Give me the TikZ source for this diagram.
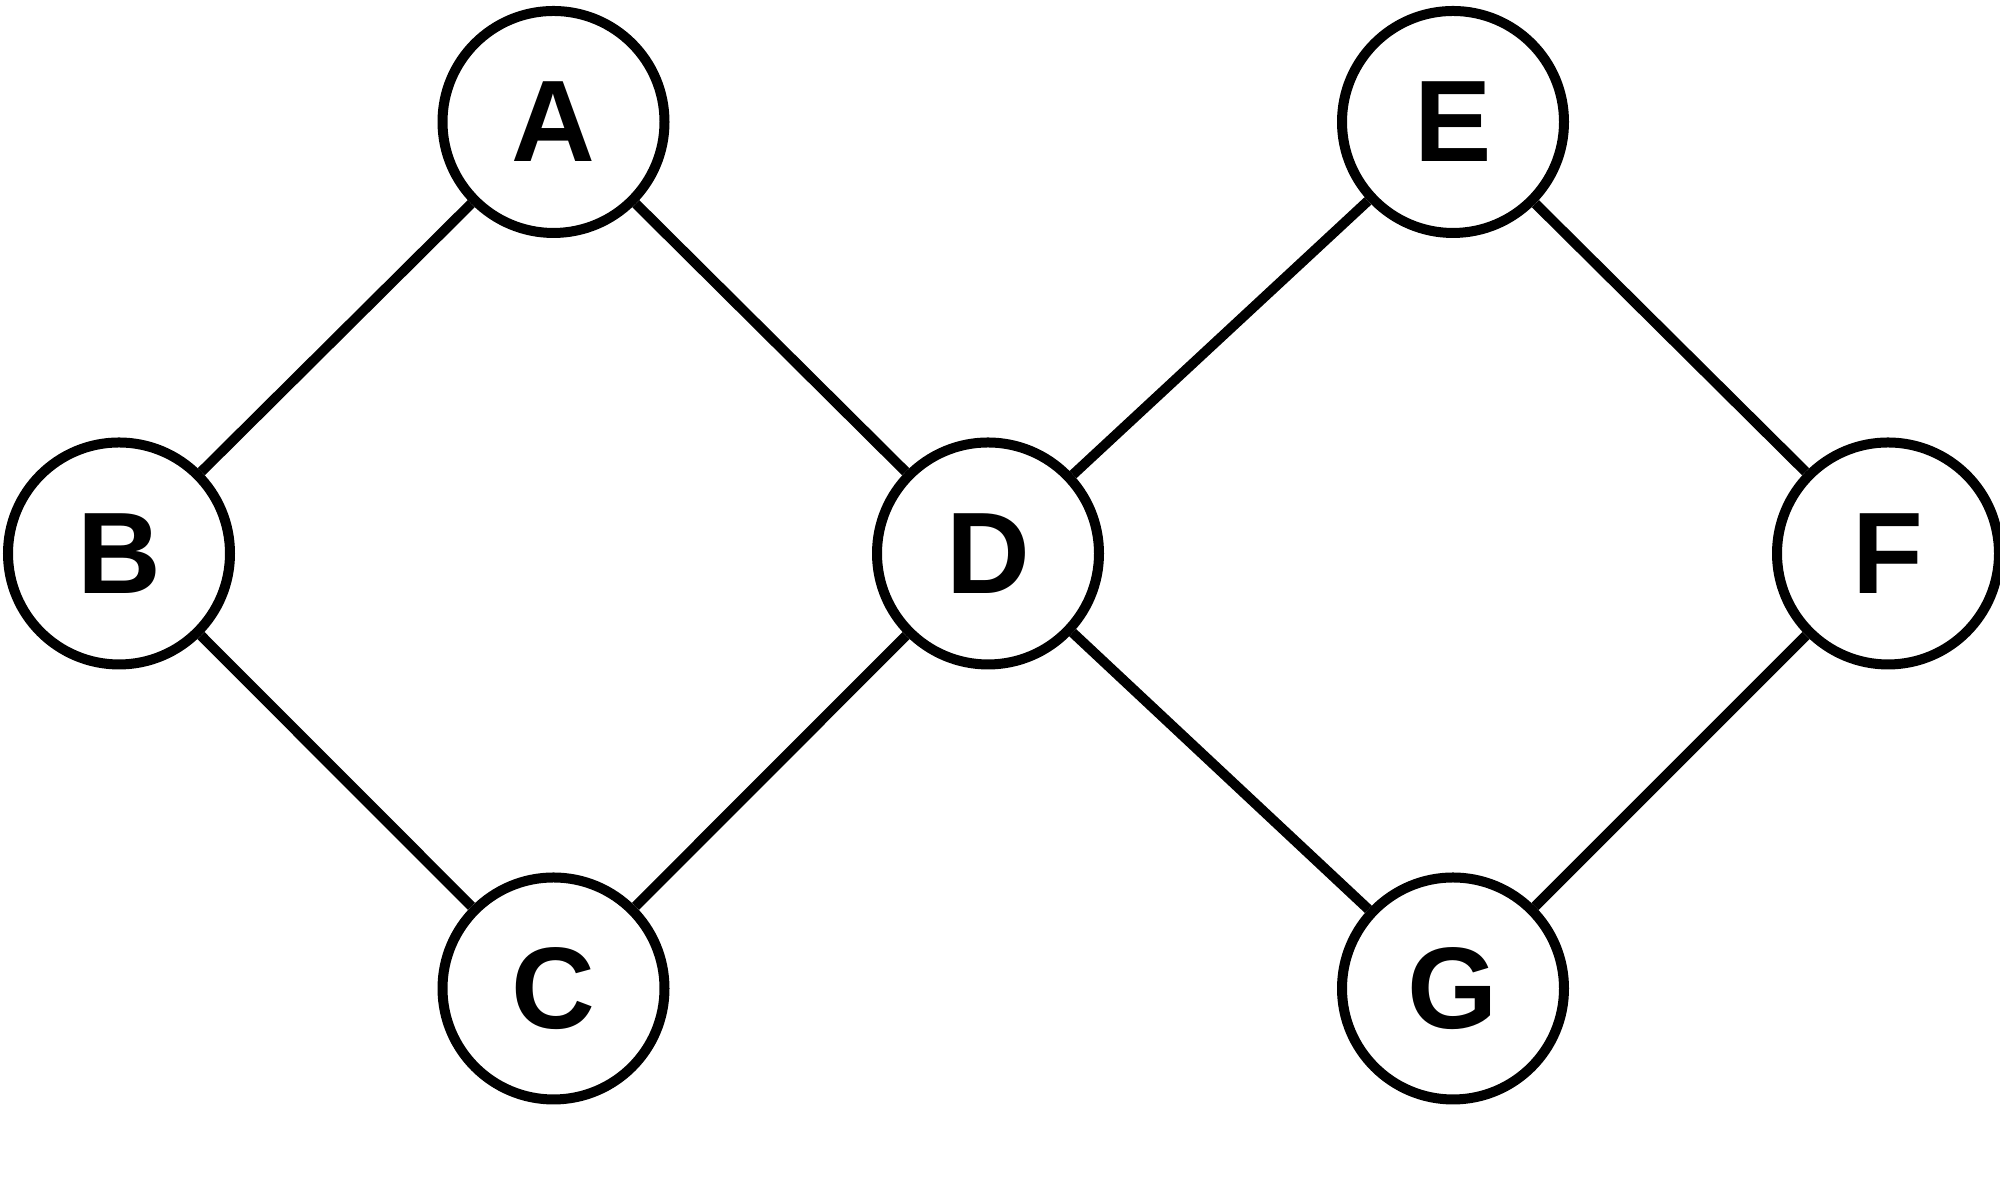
\documentclass[tikz,border=0pt]{standalone}
\usepackage{fontspec}
\setmainfont{Liberation Sans}
\begin{document}
\begin{tikzpicture}[x=1cm,y=1cm,
  vert/.style={circle,draw,line width=0.1cm,minimum size=2.22cm,inner sep=0pt,
    font=\fontsize{33}{33}\selectfont\bfseries},
  edge/.style={line width=0.1cm}]
\useasboundingbox (0,0) rectangle (20,12.02);
\node[vert] (A) at (5.535,10.80) {A};
\node[vert] (B) at (1.19,6.485) {B};
\node[vert] (C) at (5.535,2.135) {C};
\node[vert] (D) at (9.88,6.485) {D};
\node[vert] (E) at (14.53,10.80) {E};
\node[vert] (F) at (18.88,6.485) {F};
\node[vert] (G) at (14.53,2.135) {G};
\draw[edge] (A) -- (B);
\draw[edge] (A) -- (D);
\draw[edge] (B) -- (C);
\draw[edge] (C) -- (D);
\draw[edge] (D) -- (E);
\draw[edge] (D) -- (G);
\draw[edge] (E) -- (F);
\draw[edge] (F) -- (G);
\end{tikzpicture}
\end{document}
